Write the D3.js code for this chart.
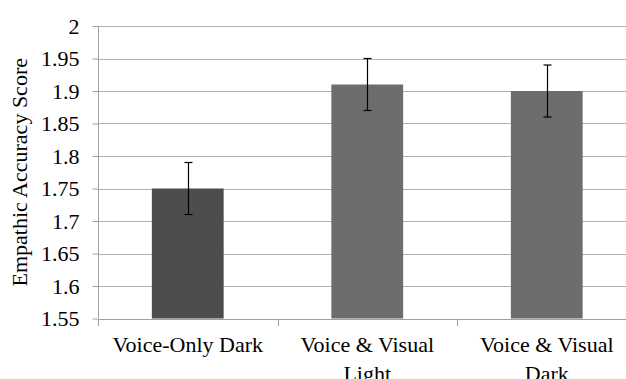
<!DOCTYPE html>
<html>
<head>
<meta charset="utf-8">
<script src="https://cdn.jsdelivr.net/npm/d3@7"></script>
<style>
  html, body { margin: 0; padding: 0; background: #fff; }
  svg { display: block; }
</style>
</head>
<body>
<svg id="chart" width="626" height="379"></svg>
<script>
// Condition means and their error margins
const conditions = ["Voice-Only Dark", "Voice & Visual Light", "Voice & Visual Dark"];
const labelLines = [["Voice-Only Dark"], ["Voice & Visual", "Light"], ["Voice & Visual", "Dark"]];
const means = [1.75, 1.91, 1.90];
const errors = [0.04, 0.04, 0.04];
const barColors = ["#4d4d4d", "#6d6d6d", "#6d6d6d"];
const yTicks = [1.55, 1.6, 1.65, 1.7, 1.75, 1.8, 1.85, 1.9, 1.95, 2];
const yTitle = "Empathic Accuracy Score";

const svg = d3.select("#chart");
const plotLeft = 98, plotTop = 26, plotBottom = 318.5, plotRight = 636.5;
const labelSize = "22px";
const labelFont = "'Liberation Serif', Tinos, FreeSerif, 'Times New Roman'";

const x = d3.scaleBand().domain(conditions).range([plotLeft, plotRight])
  .paddingInner(0.6).paddingOuter(0.3);
const y = d3.scaleLinear().domain([1.55, 2]).range([plotBottom, plotTop]);

// Horizontal gridlines
svg.append("g").selectAll("line").data(yTicks.slice(1)).join("line")
  .attr("x1", plotLeft).attr("x2", 626)
  .attr("y1", d => Math.round(y(d)) + 0.5).attr("y2", d => Math.round(y(d)) + 0.5)
  .attr("stroke", "#b0b0b0").attr("stroke-width", 1);

// Y axis
const yAxis = svg.append("g").attr("transform", `translate(${plotLeft + 0.5},0)`)
  .call(d3.axisLeft(y).tickValues(yTicks).tickFormat(d3.format("~g")).tickSize(6).tickPadding(13));
yAxis.attr("font-family", null).attr("font-size", null);
yAxis.select(".domain").attr("stroke", "#a0a0a0").attr("d", `M0,${plotBottom}V${plotTop}`);
yAxis.selectAll(".tick line").attr("stroke", "#a0a0a0");
yAxis.selectAll(".tick text")
  .style("font-family", labelFont).style("font-size", labelSize)
  .attr("fill", "#000");

// X axis line with ticks at category boundaries
const step = x.step();
const boundaries = d3.range(4).map(i => plotLeft + i * step);
svg.append("line").attr("x1", plotLeft).attr("x2", 626)
  .attr("y1", Math.round(plotBottom) + 0.5).attr("y2", Math.round(plotBottom) + 0.5)
  .attr("stroke", "#a0a0a0");
svg.append("g").selectAll("line").data(boundaries).join("line")
  .attr("x1", d => Math.round(d) + 0.5).attr("x2", d => Math.round(d) + 0.5)
  .attr("y1", Math.round(plotBottom)).attr("y2", Math.round(plotBottom) + 7)
  .attr("stroke", "#a0a0a0");

// Bars
svg.append("g").selectAll("rect").data(conditions).join("rect")
  .attr("x", d => x(d)).attr("width", x.bandwidth())
  .attr("y", (d, i) => y(means[i]))
  .attr("height", (d, i) => y(1.55) - y(means[i]))
  .attr("fill", (d, i) => barColors[i]);

// Error bars
const eb = svg.append("g").attr("stroke", "#000").attr("stroke-width", 1.2);
conditions.forEach((c, i) => {
  const cx = Math.round(x(c) + x.bandwidth() / 2) + 0.5;
  const y1 = y(means[i] + errors[i]), y2 = y(means[i] - errors[i]);
  eb.append("line").attr("x1", cx).attr("x2", cx).attr("y1", y1).attr("y2", y2);
  eb.append("line").attr("x1", cx - 4).attr("x2", cx + 4).attr("y1", y1).attr("y2", y1);
  eb.append("line").attr("x1", cx - 4).attr("x2", cx + 4).attr("y1", y2).attr("y2", y2);
});

// Category labels
svg.append("g").selectAll("text").data(conditions).join("text")
  .attr("x", d => x(d) + x.bandwidth() / 2)
  .attr("y", 352)
  .attr("text-anchor", "middle")
  .attr("fill", "#000")
  .style("font-family", labelFont).style("font-size", labelSize)
  .each(function(d, i) {
    d3.select(this).selectAll("tspan").data(labelLines[i]).join("tspan")
      .attr("x", x(d) + x.bandwidth() / 2)
      .attr("dy", (t, j) => j === 0 ? 0 : 29)
      .text(t => t);
  });

// Y axis title
svg.append("text")
  .attr("transform", `translate(27,${(plotTop + plotBottom) / 2}) rotate(-90)`)
  .attr("text-anchor", "middle")
  .attr("fill", "#000")
  .style("font-family", labelFont).style("font-size", labelSize)
  .text(yTitle);
</script>
</body>
</html>
